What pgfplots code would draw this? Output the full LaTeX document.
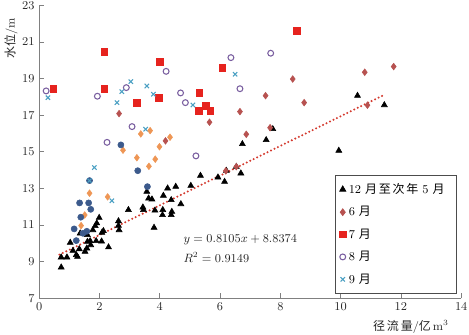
\documentclass[border=0pt]{standalone}
\usepackage{pgfplots}
\pgfplotsset{compat=1.18}
\usepackage{fontspec}
\newfontfamily\cjk{Noto Sans CJK SC}
\newfontfamily\cjkl[LetterSpace=15]{Noto Sans CJK SC}
\definecolor{cA}{RGB}{0,0,0}
\definecolor{cB}{RGB}{183,82,80}
\definecolor{cC}{RGB}{230,35,30}
\definecolor{cD}{RGB}{122,95,160}
\definecolor{cE}{RGB}{75,160,195}
\definecolor{cF}{RGB}{238,150,85}
\definecolor{cG}{RGB}{60,90,140}
\definecolor{cL}{RGB}{212,58,47}
\begin{document}
\begin{tikzpicture}
\useasboundingbox (-29.4pt,-27.5pt) rectangle (322.35pt,223.7pt);
\begin{axis}[
  scale only axis, width=316.5pt, height=219.6pt,
  xmin=0, xmax=14, ymin=7, ymax=23,
  axis lines=left,
  axis line style={-, draw=black!50, line width=0.8pt},
  xtick={0,2,...,14}, ytick={7,9,...,23},
  tick align=inside, major tick length=3.75pt,
  tick style={black!50, line width=0.6pt},
  minor tick num=0,
  ticklabel style={font=\fontsize{9}{10}\selectfont, text=black!85},
  xlabel={{\cjkl 径流量}/{\cjk 亿}\,m$^3$},
  ylabel={{\cjk 水位}/m},
  label style={font=\fontsize{9}{10}\selectfont, text=black!85},
  xlabel style={at={(axis description cs:0.881,-0.098)}, anchor=center},
  ylabel style={at={(axis description cs:-0.067,0.889)}, anchor=center, rotate=0},
  legend style={at={(axis description cs:0.701,0.421)}, anchor=north west,
    draw=black!70, line width=0.6pt, font=\fontsize{9}{10}\selectfont,
    row sep=4.2pt, inner xsep=3pt, inner ysep=4pt,
    nodes={text width=76pt}},
  legend cell align=left,
  clip=false,
]
\addplot[only marks, mark=triangle*, mark size=2.6pt, color=cA] coordinates {
(0.73,9.24) (0.73,8.69) (0.92,9.24) (1.03,10.04) (1.12,9.60) (1.23,9.37)
(1.27,9.27) (1.33,9.69) (1.36,10.55) (1.52,9.55) (1.58,9.73) (1.60,10.09)
(1.60,10.46) (1.69,10.13) (1.71,9.91) (1.78,10.73) (1.86,10.95) (1.91,11.10)
(1.99,11.40) (1.89,10.13) (2.08,10.58) (2.07,10.11) (2.13,10.68) (2.30,9.79)
(2.63,11.22) (2.63,10.97) (2.65,10.73) (2.96,11.83) (3.44,11.97) (3.46,11.83)
(3.57,12.83) (3.63,12.46) (3.74,12.41) (3.84,11.80) (3.81,10.86) (4.10,11.83)
(4.09,11.55) (4.12,12.61) (4.26,13.01) (4.38,11.55) (4.40,11.73) (4.38,12.37)
(4.53,13.10) (4.70,12.15) (5.03,13.15) (5.35,13.70) (5.93,13.61) (6.15,13.37)
(6.21,13.97) (6.54,14.19) (6.69,13.83) (6.74,15.43) (7.53,15.65) (7.75,16.25)
(9.94,15.07) (10.56,18.07) (11.45,17.56)
};
\addlegendentry{\mbox{12 {\cjkl 月至次年} 5 {\cjk 月}}}
\addplot[only marks, mark=diamond*, mark size=2.5pt, color=cB] coordinates {
(2.65,17.09) (5.65,16.62) (6.66,17.20) (7.51,18.07) (8.41,18.98) (8.79,17.69)
(6.87,15.96) (7.66,16.32) (4.19,15.60) (10.80,19.35) (11.76,19.66) (10.89,17.55)
(6.19,13.96) (6.54,14.19)
};
\addlegendentry{6 {\cjk 月}}
\addplot[only marks, mark=square*, mark size=2.5pt, color=cC] coordinates {
(0.47,18.45) (2.16,20.47) (2.16,18.45) (3.24,17.69) (4.01,19.93) (3.96,17.96)
(5.31,18.23) (6.07,19.58) (5.52,17.51) (5.30,17.25) (5.68,17.25) (8.55,21.62)
};
\addlegendentry{7 {\cjk 月}}
\addplot[only marks, mark=o, mark size=2.2pt, line width=0.8pt, color=cD] coordinates {
(0.23,18.33) (1.93,18.04) (2.89,18.51) (2.25,15.52) (3.08,16.38) (4.21,19.40)
(4.69,18.22) (4.85,17.69) (6.36,20.15) (6.66,18.45) (7.68,20.39) (5.20,14.78)
};
\addlegendentry{8 {\cjk 月}}
\addplot[only marks, mark=x, mark size=2.3pt, line width=0.8pt, color=cE] coordinates {
(0.29,17.96) (2.58,17.69) (2.74,18.29) (3.04,18.84) (3.57,18.60) (3.79,18.15)
(3.53,16.24) (1.83,14.14) (5.10,17.56) (6.50,19.24) (2.41,12.33)
};
\addlegendentry{9 {\cjk 月}}
\addplot[forget plot, only marks, mark=diamond*, mark size=2.5pt, color=cF] coordinates {
(3.37,15.98) (3.68,16.16) (2.78,15.09) (3.24,14.68) (3.99,15.28) (3.64,14.21)
(3.85,14.60) (4.34,15.80) (1.67,12.74) (2.27,12.54) (1.51,11.55) (1.39,10.97)
};
\addplot[forget plot, only marks, mark=*, mark size=2.3pt, color=cG] coordinates {
(2.71,15.38) (3.27,13.97) (3.59,13.10) (1.67,13.43) (1.34,12.21) (1.64,12.21)
(1.71,11.86) (1.38,11.43) (1.16,10.79) (1.23,10.15) (1.58,10.66) (1.45,10.55)
};
\addplot[forget plot, only marks, mark=x, mark size=2.3pt, line width=0.8pt, color=cE] coordinates {
(1.67,13.43)
};
\addplot[forget plot, color=cL, line width=1.7pt, line cap=round, dash pattern=on 0pt off 2.9pt] coordinates {
(0.67,9.38) (11.40,18.08)
};
\node[anchor=west, font=\fontsize{9}{10}\selectfont, text=black!85, inner sep=0pt] at (axis cs:4.78,10.19) {$y=0.8105x+8.8374$};
\node[anchor=west, font=\fontsize{9}{10}\selectfont, text=black!85, inner sep=0pt] at (axis cs:4.78,9.22) {$R^2=0.9149$};
\end{axis}
\end{tikzpicture}
\end{document}
